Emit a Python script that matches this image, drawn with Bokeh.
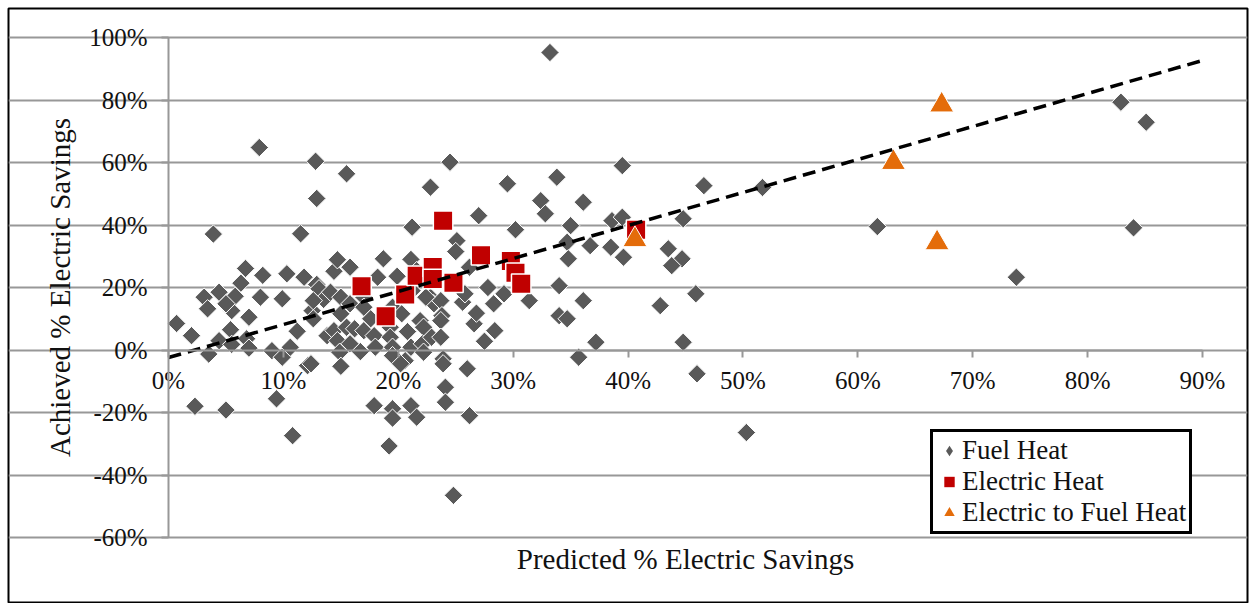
from bokeh.plotting import figure
from bokeh.models import (Range1d, LinearAxis, FixedTicker, PrintfTickFormatter,
                          Grid, Legend, LegendItem)
from bokeh.embed import file_html
from bokeh.resources import INLINE
import math

# ---------------- data (percent) ----------------
fuel_x = [0.7, 2.0, 3.5, 2.3, 5.0, 3.9, 7.9, 4.4, 3.1, 5.8, 6.3, 6.7, 8.2, 8.0, 9.9,
          3.4, 5.5, 5.0, 7.0, 4.4, 5.4, 5.5, 6.8, 7.0, 9.0, 9.9, 9.4,
          10.3, 11.8, 10.6, 11.2, 12.1, 10.8, 11.5, 12.8, 12.9, 12.9, 13.1, 13.5,
          12.5, 12.6, 12.6, 14.1, 13.8, 14.4, 14.7, 14.9, 14.4, 14.7, 12.4, 15.0,
          15.0, 15.0,
          15.5, 15.8, 15.8, 15.5, 15.8, 16.2, 16.7, 17.0, 17.0, 17.6, 17.0, 17.9,
          18.0, 18.2, 18.7, 19.5, 19.3, 19.3, 19.5, 19.5, 19.9, 17.9, 19.5, 19.5,
          19.2, 20.3,
          20.6, 20.8, 21.1, 21.2, 21.2, 21.6, 21.1, 21.9, 22.2, 22.1, 22.2, 22.8,
          23.1, 23.7, 23.8, 23.7, 22.9, 23.7, 23.9, 23.9, 24.1, 24.1, 21.1, 21.6,
          20.2, 22.8, 24.5, 25.1, 25.0, 24.8, 22.4,
          25.6, 25.8, 26.0, 26.2, 26.6, 26.8, 27.5, 27.0, 28.3, 28.4, 29.2, 29.5,
          26.2, 27.8,
          30.2, 31.4, 32.4, 32.8, 33.2, 33.8, 34.0, 34.0, 34.7, 35.0, 34.7, 34.8,
          36.1, 36.7, 36.1, 37.2, 35.7, 38.6, 39.5, 38.5, 39.6, 39.5,
          44.8, 43.5, 44.7, 43.8, 45.9, 42.8, 44.8, 46.0, 46.6, 50.3, 51.7, 61.7,
          73.8, 82.9, 85.1, 84.0]
fuel_y = [8.5, 4.6, -1.3, -18.0, -19.2, 37.1, 64.8, 18.5, 16.9, 17.2, 21.4, 26.1, 23.9, 16.9, 16.4,
          13.2, 12.6, 14.8, 10.5, 3.0, 6.5, 1.8, 3.6, 0.6, -0.2, -2.3, -15.6,
          24.4, 23.3, 0.9, 6.0, -5.0, -27.4, 37.2, 60.4, 48.5, 21.0, 19.6, 16.2,
          12.6, 10.0, 15.8, 18.5, 4.6, 6.2, 3.0, -0.7, 25.2, 28.9, -4.4, -5.2,
          16.9, 11.6,
          56.4, 26.5, 14.8, 7.3, 2.0, 6.8, -0.5, 16.9, 13.7, 10.0, 6.2, 4.6,
          0.9, 23.3, 29.2, 13.7, 7.3, 4.1, 0.9, -1.8, 23.6, -17.8, -18.8, -21.8,
          -30.7, 11.6,
          -3.4, 5.9, 29.0, 39.3, 19.0, 25.4, 0.9, 9.4, 7.3, 2.0, -0.7, 16.9,
          14.8, 15.8, 11.0, 9.4, 4.1, 4.1, -2.8, -4.4, -11.9, -16.7, -17.8, -21.5,
          -4.4, 52.1, 60.1, 35.0, 31.5, -46.5, 16.9,
          15.3, 18.0, -6.0, -21.0, 8.4, 11.8, 2.8, 43.0, 14.8, 6.2, 18.0, 53.2,
          26.5, 20.0,
          38.5, 15.8, 47.8, 43.6, 95.2, 55.3, 20.6, 11.0, 10.0, 39.8, 34.5, 29.2,
          47.3, 33.4, 15.8, 2.5, -2.3, 41.4, 42.5, 32.9, 29.7, 59.0,
          42.0, 32.4, 29.2, 27.0, 18.0, 14.2, 2.5, -7.6, 52.6, -26.4, 52.0, 39.5,
          23.3, 79.3, 72.9, 39.1]

elec_x = [16.8, 18.9, 20.6, 21.6, 23.0, 23.0, 24.8, 23.9, 27.2, 29.8, 30.2, 30.7, 40.7]
elec_y = [20.4, 10.8, 17.8, 23.8, 26.6, 22.7, 21.5, 41.4, 30.3, 28.5, 24.7, 21.2, 38.5]

tri_x = [40.6, 63.1, 67.3, 66.9]
tri_y = [35.3, 60.0, 78.4, 34.3]

trend_slope = 1.056
trend_intercept = -2.4

y_ticks = [-60, -40, -20, 0, 20, 40, 60, 80, 100]
x_ticks = [0, 10, 20, 30, 40, 50, 60, 70, 80, 90]

series_labels = ["Fuel Heat", "Electric Heat", "Electric to Fuel Heat"]
x_title = "Predicted % Electric Savings"
y_title = "Achieved % Electric Savings"

# ---------------- styles ----------------
FONT = "Liberation Serif"
GRID = "#989898"
TXT = "#111111"
C_FUEL, C_ELEC, C_TRI = "#595959", "#C00000", "#E46C0A"

# frame = bordered box; data area 0..90 / -60..100 sits inside it
p = figure(width=1249, height=603,
           x_range=Range1d(-13.93, 93.92), y_range=Range1d(-81.1, 109.28),
           output_backend="svg", toolbar_location=None,
           x_axis_type=None, y_axis_type=None,
           min_border_left=8, min_border_right=2, min_border_top=8, min_border_bottom=0)
p.outline_line_color = "black"
p.outline_line_width = 2
p.background_fill_color = "white"
p.border_fill_color = "white"

yaxis = LinearAxis(ticker=FixedTicker(ticks=y_ticks), formatter=PrintfTickFormatter(format="%d%%"),
                   axis_label=y_title, fixed_location=0, bounds=(y_ticks[0], y_ticks[-1]))
yaxis.axis_line_color = GRID
yaxis.axis_line_width = 2
yaxis.major_tick_line_color = GRID
yaxis.major_tick_line_width = 2
yaxis.major_tick_in = 0
yaxis.major_tick_out = 7
yaxis.minor_tick_line_color = None
yaxis.major_label_standoff = 14
yaxis.major_label_text_font = FONT
yaxis.major_label_text_font_size = "25px"
yaxis.major_label_text_color = TXT
yaxis.axis_label_text_font = FONT
yaxis.axis_label_text_font_size = "29px"
yaxis.axis_label_text_font_style = "normal"
yaxis.axis_label_text_color = TXT
yaxis.axis_label_standoff = 10
p.add_layout(yaxis, "left")

xaxis = LinearAxis(ticker=FixedTicker(ticks=x_ticks), formatter=PrintfTickFormatter(format="%d%%"),
                   fixed_location=0, bounds=(x_ticks[0], x_ticks[-1]))
xaxis.axis_line_color = GRID
xaxis.axis_line_width = 2
xaxis.major_tick_line_color = GRID
xaxis.major_tick_line_width = 2
xaxis.major_tick_in = 0
xaxis.major_tick_out = 7
xaxis.minor_tick_line_color = None
xaxis.major_label_standoff = 10
xaxis.major_label_text_font = FONT
xaxis.major_label_text_font_size = "25px"
xaxis.major_label_text_color = TXT
p.add_layout(xaxis, "below")

xtitle = LinearAxis(ticker=FixedTicker(ticks=[]), axis_label=x_title,
                    fixed_location=y_ticks[0], bounds=(x_ticks[0], x_ticks[-1]))
xtitle.axis_line_color = None
xtitle.major_tick_line_color = None
xtitle.minor_tick_line_color = None
xtitle.major_tick_out = 0
xtitle.major_label_text_font_size = "0px"
xtitle.axis_label_text_font = FONT
xtitle.axis_label_text_font_size = "29px"
xtitle.axis_label_text_font_style = "normal"
xtitle.axis_label_text_color = TXT
xtitle.axis_label_standoff = 5
p.add_layout(xtitle, "below")

p.add_layout(Grid(dimension=1, ticker=yaxis.ticker, grid_line_color=GRID, grid_line_width=2,
                  bounds=(x_ticks[0], x_ticks[-1])))

# small legend-key glyphs, hidden beneath the first real mark of each series
lg_fuel = p.scatter(fuel_x[:1], fuel_y[:1], marker="diamond", size=8,
                    fill_color=C_FUEL, line_color=None)
lg_elec = p.scatter(elec_x[:1], elec_y[:1], marker="square", size=8,
                    fill_color=C_ELEC, line_color=None)
lg_tri = p.scatter(tri_x[:1], tri_y[:1], marker="triangle", size=8,
                   fill_color=C_TRI, line_color=None)

r_fuel = p.scatter(fuel_x, fuel_y, marker="square", angle=math.pi / 4, size=13,
                   fill_color=C_FUEL, line_color="white", line_width=1)
r_elec = p.scatter(elec_x, elec_y, marker="square", size=19.5,
                   fill_color=C_ELEC, line_color="white", line_width=1.5)
r_tri = p.scatter(tri_x, tri_y, marker="triangle", size=24,
                  fill_color=C_TRI, line_color="white", line_width=1)

# trend line drawn from its slope / intercept across the x span
tx = [x_ticks[0], x_ticks[-1]]
ty = [trend_intercept + trend_slope * v for v in tx]
p.line(tx, ty, line_color="black", line_width=3.5, line_dash="13 7")

legend = Legend(items=[LegendItem(label=series_labels[0], renderers=[lg_fuel]),
                       LegendItem(label=series_labels[1], renderers=[lg_elec]),
                       LegendItem(label=series_labels[2], renderers=[lg_tri])],
                location=(922, 69))
legend.border_line_color = "black"
legend.border_line_width = 3
legend.border_line_alpha = 1
legend.background_fill_color = "white"
legend.background_fill_alpha = 1
legend.padding = 3
legend.margin = 0
legend.spacing = 0
legend.glyph_width = 26
legend.glyph_height = 31
legend.label_height = 31
legend.label_standoff = 0
legend.label_text_font = FONT
legend.label_text_font_size = "27px"
legend.label_text_color = TXT
p.add_layout(legend, "center")

open("out.html", "w").write(file_html(p, INLINE))
